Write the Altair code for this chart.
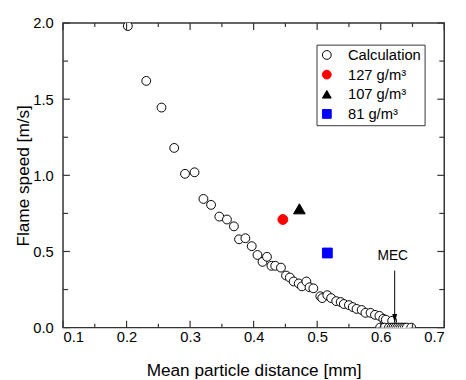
import altair as alt
import pandas as pd

# ---- data ----
calc_x = [0.202, 0.231, 0.255, 0.275, 0.292, 0.307, 0.321, 0.333, 0.346, 0.358,
          0.369, 0.377, 0.387, 0.397, 0.406, 0.414, 0.421, 0.428, 0.434, 0.443,
          0.451, 0.457, 0.463, 0.471, 0.476, 0.483, 0.488, 0.494, 0.505, 0.508,
          0.516, 0.522, 0.530, 0.537, 0.542, 0.550, 0.556, 0.562, 0.570, 0.576,
          0.584, 0.591, 0.598, 0.604, 0.608, 0.618,
          0.599, 0.606, 0.613, 0.617, 0.620, 0.623, 0.626, 0.629, 0.632, 0.635,
          0.638, 0.641, 0.648]
calc_y = [1.98, 1.62, 1.445, 1.18, 1.01, 1.02, 0.845, 0.806, 0.729, 0.71,
          0.665, 0.58, 0.587, 0.535, 0.477, 0.432, 0.465, 0.406, 0.406, 0.394,
          0.342, 0.329, 0.303, 0.29, 0.271, 0.303, 0.265, 0.258, 0.206, 0.194,
          0.213, 0.194, 0.174, 0.168, 0.155, 0.148, 0.135, 0.123, 0.116, 0.097,
          0.097, 0.084, 0.077, 0.058, 0.052, 0.045,
          0, 0, 0, 0, 0, 0, 0, 0, 0, 0,
          0, 0, 0]

series_names = ["Calculation", "127 g/m\u00b3", "107 g/m\u00b3", "\u00a081 g/m\u00b3"]
exp_x = [0.446, 0.472, 0.516]
exp_y = [0.71, 0.78, 0.49]

mec_label = ["MEC"]
mec_x = [0.622]
mec_text_y = [0.47]
mec_top_y = [0.374]
mec_tip_y = [0.032]

x_major = [0.1, 0.2, 0.3, 0.4, 0.5, 0.6, 0.7]
x_minor = [0.15, 0.25, 0.35, 0.45, 0.55, 0.65]
y_major = [0.0, 0.5, 1.0, 1.5, 2.0]
y_minor = [0.25, 0.75, 1.25, 1.75]

W, H = 388, 310
FONT = "Liberation Sans"

pts = pd.DataFrame({
    "x": calc_x + exp_x,
    "y": calc_y + exp_y,
    "series": [series_names[0]] * len(calc_x) + series_names[1:],
})

xs = alt.Scale(domain=[0.1, 0.7], nice=False, zero=False)
ys = alt.Scale(domain=[0, 2.0], nice=False, zero=False)

xaxis = alt.Axis(values=x_major, format=".1f", ticks=False, tickSize=0, domain=False,
                 grid=False, labelFontSize=15, labelPadding=2, labelColor="black",
                 title="Mean particle distance [mm]", titleFontSize=17.5,
                 titleFontWeight="normal", titleColor="black", titlePadding=18)
yaxis = alt.Axis(values=y_major, format=".1f", ticks=False, tickSize=0, domain=False,
                 grid=False, labelFontSize=15, labelPadding=10, labelColor="black",
                 title="Flame speed [m/s]", titleFontSize=17.5,
                 titleFontWeight="normal", titleColor="black", titlePadding=0)


def legend():
    return alt.Legend(title=None, orient="none", legendX=258, legendY=22,
                      strokeColor="#333", fillColor="white", padding=3,
                      labelFontSize=15, labelColor="black", labelLimit=200,
                      symbolSize=80, symbolStrokeWidth=1, symbolOffset=0,
                      labelOffset=14, rowPadding=4)


points = alt.Chart(pts).mark_point(opacity=1, strokeWidth=1, clip=True).encode(
    x=alt.X("x:Q", scale=xs, axis=xaxis),
    y=alt.Y("y:Q", scale=ys, axis=yaxis),
    shape=alt.Shape("series:N", scale=alt.Scale(domain=series_names,
                    range=["circle", "circle", "triangle-up", "square"]),
                    legend=legend()),
    fill=alt.Fill("series:N", scale=alt.Scale(domain=series_names,
                  range=["white", "#ff0000", "black", "#0000ff"]),
                  legend=legend()),
    stroke=alt.Stroke("series:N", scale=alt.Scale(domain=series_names,
                      range=["black", "#ff0000", "black", "#0000ff"]),
                      legend=legend()),
    size=alt.when(alt.datum.series == series_names[0]).then(alt.value(81))
            .when(alt.datum.series == series_names[2]).then(alt.value(140))
            .otherwise(alt.value(100)),
)


def tick_layer(vals, axis, length):
    df = pd.DataFrame({"v": vals})
    c = alt.Chart(df).mark_rule(color="#333", strokeWidth=1.2)
    if axis == "bottom":
        return c.encode(x=alt.X("v:Q", scale=xs), y=alt.value(H), y2=alt.value(H - length))
    if axis == "top":
        return c.encode(x=alt.X("v:Q", scale=xs), y=alt.value(0), y2=alt.value(length))
    if axis == "left":
        return c.encode(y=alt.Y("v:Q", scale=ys), x=alt.value(0), x2=alt.value(length))
    return c.encode(y=alt.Y("v:Q", scale=ys), x=alt.value(W), x2=alt.value(W - length))


ticks = []
for ax in ["bottom", "top"]:
    ticks.append(tick_layer(x_major, ax, 7))
    ticks.append(tick_layer(x_minor, ax, 4))
for ax in ["left", "right"]:
    ticks.append(tick_layer(y_major, ax, 7))
    ticks.append(tick_layer(y_minor, ax, 5))

mec = pd.DataFrame({"label": mec_label, "x": mec_x, "ty": mec_text_y,
                    "top": mec_top_y, "tip": mec_tip_y})
mec_text = alt.Chart(mec).mark_text(fontSize=14, font=FONT, color="black",
                                    baseline="middle", align="center", dx=-2).encode(
    x=alt.X("x:Q", scale=xs), y=alt.Y("ty:Q", scale=ys), text="label:N")
mec_rule = alt.Chart(mec).mark_rule(color="black", strokeWidth=1).encode(
    x=alt.X("x:Q", scale=xs), y=alt.Y("top:Q", scale=ys), y2="tip:Q")
mec_head = alt.Chart(mec).mark_point(shape="M-1,-3.6 L1,-3.6 L0,0 Z", filled=True,
                                     color="black", opacity=1, size=25).encode(
    x=alt.X("x:Q", scale=xs), y=alt.Y("tip:Q", scale=ys))

chart = alt.layer(points, *ticks, mec_rule, mec_head, mec_text).properties(
    width=W, height=H,
    autosize=alt.AutoSizeParams(type="none"),
    padding={"left": 56, "top": 12, "right": 14, "bottom": 50},
).configure(font=FONT).configure_view(
    stroke="#333", strokeWidth=1.5
)

chart.save("out.html", embed_options={"renderer": "svg", "actions": False})
